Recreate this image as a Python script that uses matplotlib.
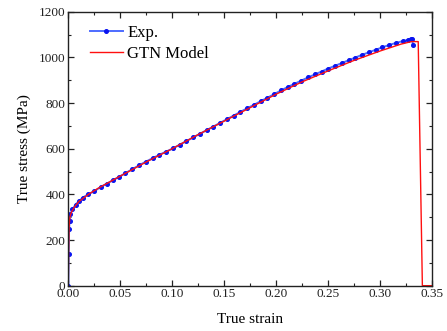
import numpy as np
import matplotlib
matplotlib.use("Agg")
import matplotlib.pyplot as plt
from matplotlib.ticker import MultipleLocator, FormatStrFormatter

# ---------------- data ----------------
# experimental true stress-strain curve
exp_strain = [0.0000, 0.0004, 0.0008, 0.0012, 0.0020, 0.0040, 0.0070, 0.0100,
              0.0140, 0.0190, 0.0250, 0.0310, 0.0370, 0.0430, 0.0490, 0.0550,
              0.0615, 0.0680, 0.0745, 0.0810, 0.0875, 0.0940, 0.1005, 0.1070,
              0.1135, 0.1200, 0.1265, 0.1330, 0.1395, 0.1460, 0.1525, 0.1590,
              0.1655, 0.1720, 0.1785, 0.1850, 0.1915, 0.1980, 0.2045, 0.2110,
              0.2175, 0.2240, 0.2305, 0.2370, 0.2435, 0.2500, 0.2565, 0.2630,
              0.2695, 0.2760, 0.2825, 0.2890, 0.2955, 0.3020, 0.3085, 0.3150,
              0.3215, 0.3270, 0.3300, 0.3310, 0.3312]
exp_stress = [0, 140, 250, 285, 312, 335, 355, 370,
              386, 400, 414, 432, 447, 462, 477, 493,
              510, 527, 543, 558, 573, 587, 601, 617,
              633, 649, 665, 681, 697, 713, 729, 745,
              761, 777, 792, 808, 823, 839, 855, 870,
              884, 898, 912, 925, 938, 951, 963, 975,
              987, 999, 1011, 1022, 1033, 1044, 1054, 1063,
              1071, 1077, 1080, 1079, 1055]

# GTN model prediction
gtn_strain = [0.0000, 0.0003, 0.0008, 0.0015, 0.0030, 0.0060, 0.0100, 0.0200,
              0.0300, 0.0400, 0.0500, 0.0750, 0.1000, 0.1250, 0.1500, 0.1750,
              0.2000, 0.2250, 0.2500, 0.2750, 0.3000, 0.3200, 0.3300, 0.3365,
              0.3405, 0.3500]
gtn_stress = [0, 150, 260, 300, 322, 345, 368, 402,
              430, 455, 480, 542, 600, 662, 721, 780,
              839, 893, 941, 987, 1028, 1058, 1069, 1069,
              0, 0]

# ---------------- plot ----------------
plt.rcParams['font.family'] = ['Liberation Serif', 'DejaVu Serif']

fig = plt.figure(figsize=(4.47, 3.31), dpi=100)
ax = fig.add_axes([0.1528, 0.1369, 0.8142, 0.8278])

ax.plot(exp_strain, exp_stress, color='#4d6bff', lw=1.4,
        marker='o', ms=2.6, mfc='#0a14f0', mec='#0a14f0', label='Exp.')
ax.plot(gtn_strain, gtn_stress, color='#ff1010', lw=1.0, label='GTN Model')

ax.set_xlim(0, 0.35)
ax.set_ylim(0, 1200)
ax.xaxis.set_major_locator(MultipleLocator(0.05))
ax.xaxis.set_minor_locator(MultipleLocator(0.025))
ax.yaxis.set_major_locator(MultipleLocator(200))
ax.yaxis.set_minor_locator(MultipleLocator(100))
ax.xaxis.set_major_formatter(FormatStrFormatter('%.2f'))

ax.tick_params(which='both', direction='in', top=True, right=True,
               labelsize=9.5, colors='#222222', pad=2)
ax.tick_params(which='major', length=4, width=0.9)
ax.tick_params(which='minor', length=2.5, width=0.8)
for sp in ax.spines.values():
    sp.set_linewidth(1.0)
    sp.set_color('#222222')

ax.set_xlabel('True strain', fontsize=11, labelpad=9)
ax.set_ylabel('True stress (MPa)', fontsize=11, labelpad=6)

ax.legend(loc='upper left', frameon=False, fontsize=12,
          handlelength=2.0, handletextpad=0.25, labelspacing=0.3,
          borderaxespad=0.0, bbox_to_anchor=(0.04, 0.975))

fig.savefig('out.png', dpi=100)
